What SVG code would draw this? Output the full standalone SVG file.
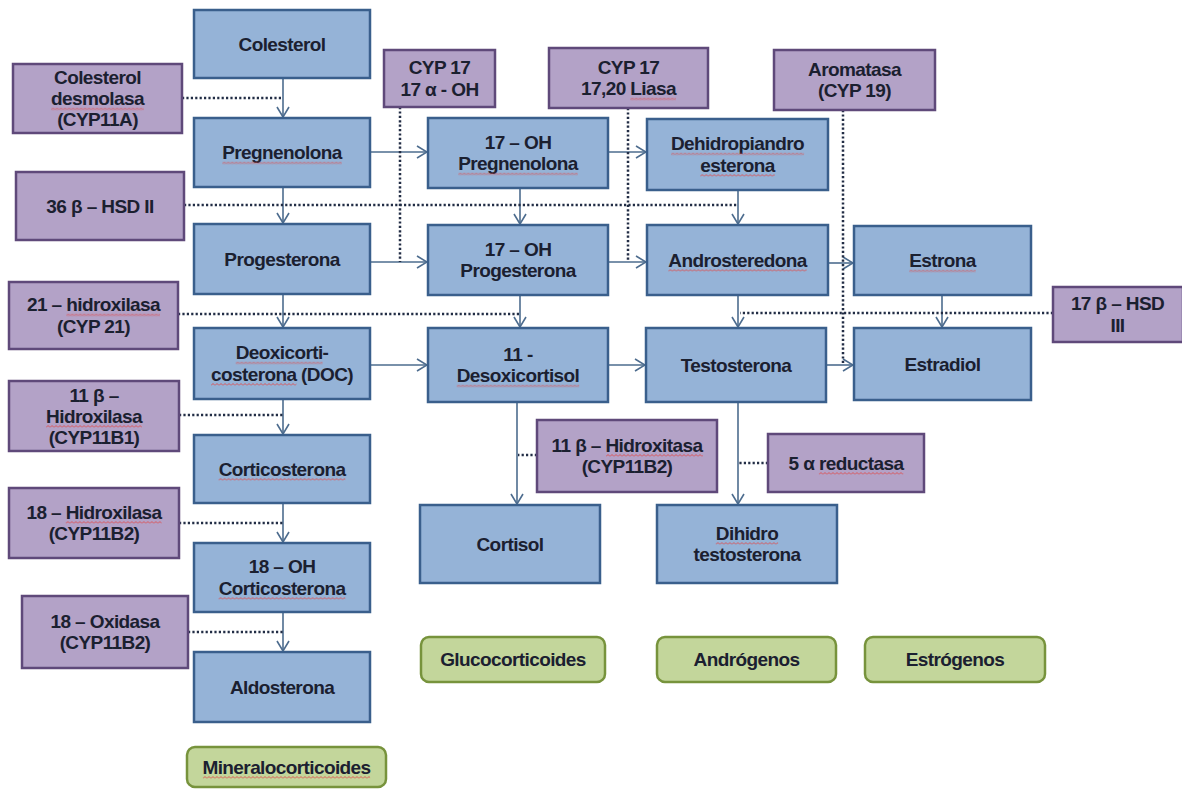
<svg xmlns="http://www.w3.org/2000/svg" width="1182" height="789" viewBox="0 0 1182 789">
<style>
.b{fill:#95b3d7;stroke:#3a5f8c;stroke-width:2.5}
.p{fill:#b3a2c7;stroke:#5f497a;stroke-width:2.5}
.g{fill:#c3d69b;stroke:#77933c;stroke-width:2.5}
.t{font-family:"Liberation Sans",Arial,sans-serif;font-weight:bold;font-size:19px;letter-spacing:-0.6px;fill:#1b2030;text-anchor:middle}
.s{stroke:#4d6c8e;stroke-width:1.6;fill:none;marker-end:url(#arr)}
.d{stroke:#222d45;stroke-width:2.5;stroke-dasharray:2.2 2.2;fill:none}
.q{fill:url(#sq)}
</style>
<defs>
<marker id="arr" viewBox="0 0 12 14" refX="11" refY="7" markerWidth="12" markerHeight="14" markerUnits="userSpaceOnUse" orient="auto">
<path d="M1,1 L11,7 L1,13" fill="none" stroke="#4d6c8e" stroke-width="1.6"/>
</marker>
<pattern id="sq" patternUnits="userSpaceOnUse" width="4" height="3">
<path d="M0,2.5 L2,0.5 L4,2.5" fill="none" stroke="#e04a4a" stroke-width="0.9"/>
</pattern>
</defs>
<rect x="0" y="0" width="1182" height="789" fill="#ffffff"/>

<g id="connectors">
<path class="s" d="M283,78 V117"/>
<path class="s" d="M283,187 V223"/>
<path class="s" d="M283,294 V327"/>
<path class="s" d="M283,399 V434"/>
<path class="s" d="M283,503 V542"/>
<path class="s" d="M283,612 V651"/>
<path class="s" d="M370,152 H427"/>
<path class="s" d="M370,262 H427"/>
<path class="s" d="M370,365 H427"/>
<path class="s" d="M520,188 V224"/>
<path class="s" d="M520,295 V327"/>
<path class="s" d="M608,152 H646"/>
<path class="s" d="M608,262 H646"/>
<path class="s" d="M608,365 H645"/>
<path class="s" d="M738,190 V224"/>
<path class="s" d="M738,295 V327"/>
<path class="s" d="M828,263 H853"/>
<path class="s" d="M826,365 H853"/>
<path class="s" d="M942,295 V327"/>
<path class="s" d="M517,402 V504"/>
<path class="s" d="M738,402 V504"/>
<path class="d" d="M182,98 H283"/>
<path class="d" d="M184,205 H738"/>
<path class="d" d="M400,107 V262"/>
<path class="d" d="M628,108 V262"/>
<path class="d" d="M843,110 V365"/>
<path class="d" d="M178,314 H519"/>
<path class="d" d="M1053,313 H740"/>
<path class="d" d="M179,415 H283"/>
<path class="d" d="M179,523 H283"/>
<path class="d" d="M188,632 H283"/>
<path class="d" d="M537,455 H518"/>
<path class="d" d="M768,463 H739"/>
</g>

<g id="colesterol"><rect class="b" x="194" y="10" width="176" height="68"/><text class="t" x="282" y="50.5">Colesterol</text></g>
<g id="colesterol-desmolasa"><rect class="p" x="13" y="64" width="169" height="69"/><text class="t" x="97.5" y="84">Colesterol</text><text class="t" x="97.5" y="105">desmolasa</text><text class="t" x="97.5" y="126">(CYP11A)</text><rect class="q" x="0" y="0" width="92.8" height="3" transform="translate(51.1,107.5)"/></g>
<g id="cyp17-oh"><rect class="p" x="384" y="50" width="111" height="57"/><text class="t" x="439.5" y="74">CYP 17</text><text class="t" x="439.5" y="95.5">17 α - OH</text></g>
<g id="cyp17-liasa"><rect class="p" x="549" y="48" width="159" height="60"/><text class="t" x="628.5" y="73.5">CYP 17</text><text class="t" x="628.5" y="95">17,20 Liasa</text><rect class="q" x="0" y="0" width="45.6" height="3" transform="translate(630.3,97.5)"/></g>
<g id="aromatasa"><rect class="p" x="774" y="50" width="161" height="60"/><text class="t" x="854.5" y="75.5">Aromatasa</text><text class="t" x="854.5" y="97">(CYP 19)</text></g>

<g id="pregnenolona"><rect class="b" x="194" y="118" width="176" height="69"/><text class="t" x="282" y="159">Pregnenolona</text><rect class="q" x="0" y="0" width="119.5" height="3" transform="translate(222.3,161.5)"/></g>
<g id="oh17-pregnenolona"><rect class="b" x="428" y="118" width="180" height="70"/><text class="t" x="518" y="148.5">17 – OH</text><text class="t" x="518" y="170">Pregnenolona</text><rect class="q" x="0" y="0" width="119.5" height="3" transform="translate(458.3,172.5)"/></g>
<g id="dehidropiandrosterona"><rect class="b" x="647" y="119" width="181" height="71"/><text class="t" x="737.5" y="150">Dehidropiandro</text><text class="t" x="737.5" y="171.5">esterona</text><rect class="q" x="0" y="0" width="133.1" height="3" transform="translate(671,152.5)"/><rect class="q" x="0" y="0" width="74.4" height="3" transform="translate(700.3,174)"/></g>
<g id="hsd36"><rect class="p" x="16" y="172" width="168" height="68"/><text class="t" x="100" y="212.5">36 β – HSD II</text></g>

<g id="progesterona"><rect class="b" x="194" y="224" width="176" height="70"/><text class="t" x="282" y="265.5">Progesterona</text></g>
<g id="oh17-progesterona"><rect class="b" x="428" y="225" width="180" height="70"/><text class="t" x="518" y="255.5">17 – OH</text><text class="t" x="518" y="277">Progesterona</text></g>
<g id="androsteredona"><rect class="b" x="647" y="225" width="181" height="70"/><text class="t" x="737.5" y="266.5">Androsteredona</text><rect class="q" x="0" y="0" width="138.2" height="3" transform="translate(668.4,269)"/></g>
<g id="estrona"><rect class="b" x="854" y="226" width="177" height="69"/><text class="t" x="942.5" y="267">Estrona</text><rect class="q" x="0" y="0" width="66.5" height="3" transform="translate(909.2,269.5)"/></g>
<g id="hidroxilasa21"><rect class="p" x="9" y="282" width="169" height="67"/><text class="t" x="93.5" y="311">21 – hidroxilasa</text><text class="t" x="93.5" y="332.5">(CYP 21)</text><rect class="q" x="0" y="0" width="93.7" height="3" transform="translate(66.3,313.5)"/></g>
<g id="hsd17"><rect class="p" x="1053" y="287" width="130" height="55"/><text class="t" x="1117.5" y="310">17 β – HSD</text><text class="t" x="1117.5" y="331.5">III</text></g>

<g id="deoxicorticosterona"><rect class="b" x="194" y="328" width="176" height="71"/><text class="t" x="282" y="359">Deoxicorti-</text><text class="t" x="282" y="380.5">costerona (DOC)</text><rect class="q" x="0" y="0" width="86.9" height="3" transform="translate(235.7,361.5)"/><rect class="q" x="0" y="0" width="85.4" height="3" transform="translate(211,383)"/></g>
<g id="desoxicortisol"><rect class="b" x="428" y="328" width="180" height="74"/><text class="t" x="518" y="360.5">11 -</text><text class="t" x="518" y="382">Desoxicortisol</text><rect class="q" x="0" y="0" width="122.5" height="3" transform="translate(456.7,384.5)"/></g>
<g id="testosterona"><rect class="b" x="646" y="328" width="180" height="74"/><text class="t" x="736" y="371.5">Testosterona</text></g>
<g id="estradiol"><rect class="b" x="854" y="328" width="177" height="72"/><text class="t" x="942.5" y="370.5">Estradiol</text></g>

<g id="hidroxilasa11"><rect class="p" x="9" y="381" width="170" height="70"/><text class="t" x="94" y="401.5">11 β –</text><text class="t" x="94" y="422.5">Hidroxilasa</text><text class="t" x="94" y="443.5">(CYP11B1)</text><rect class="q" x="0" y="0" width="95.8" height="3" transform="translate(46.1,425)"/></g>
<g id="hidroxitasa11"><rect class="p" x="537" y="420" width="180" height="72"/><text class="t" x="627" y="451.5">11 β – Hidroxitasa</text><text class="t" x="627" y="473">(CYP11B2)</text><rect class="q" x="0" y="0" width="96.9" height="3" transform="translate(606,454)"/></g>
<g id="reductasa5"><rect class="p" x="768" y="434" width="156" height="58"/><text class="t" x="846" y="469.5">5 α reductasa</text><rect class="q" x="0" y="0" width="84.4" height="3" transform="translate(818.9,472)"/></g>
<g id="corticosterona"><rect class="b" x="194" y="435" width="176" height="68"/><text class="t" x="282" y="475.5">Corticosterona</text><rect class="q" x="0" y="0" width="126.7" height="3" transform="translate(218.6,478)"/></g>
<g id="cortisol"><rect class="b" x="420" y="505" width="180" height="78"/><text class="t" x="510" y="550.5">Cortisol</text></g>
<g id="dihidrotestosterona"><rect class="b" x="657" y="505" width="180" height="78"/><text class="t" x="747" y="539.5">Dihidro</text><text class="t" x="747" y="561">testosterona</text><rect class="q" x="0" y="0" width="62.3" height="3" transform="translate(715.8,542)"/></g>

<g id="hidroxilasa18"><rect class="p" x="9" y="488" width="170" height="70"/><text class="t" x="94" y="518.5">18 – Hidroxilasa</text><text class="t" x="94" y="540">(CYP11B2)</text><rect class="q" x="0" y="0" width="95.8" height="3" transform="translate(65.8,521)"/></g>
<g id="oh18-corticosterona"><rect class="b" x="194" y="543" width="176" height="69"/><text class="t" x="282" y="573">18 – OH</text><text class="t" x="282" y="594.5">Corticosterona</text><rect class="q" x="0" y="0" width="126.7" height="3" transform="translate(218.6,597)"/></g>
<g id="oxidasa18"><rect class="p" x="22" y="596" width="166" height="72"/><text class="t" x="105" y="627.5">18 – Oxidasa</text><text class="t" x="105" y="649">(CYP11B2)</text></g>
<g id="aldosterona"><rect class="b" x="194" y="652" width="176" height="70"/><text class="t" x="282" y="693.5">Aldosterona</text></g>

<g id="glucocorticoides"><rect class="g" x="421" y="637" width="184" height="45" rx="8"/><text class="t" x="513" y="666">Glucocorticoides</text></g>
<g id="androgenos"><rect class="g" x="657" y="637" width="179" height="45" rx="8"/><text class="t" x="746.5" y="666">Andrógenos</text></g>
<g id="estrogenos"><rect class="g" x="865" y="637" width="180" height="45" rx="8"/><text class="t" x="955" y="666">Estrógenos</text></g>
<g id="mineralocorticoides"><rect class="g" x="187" y="747" width="199" height="40" rx="8"/><text class="t" x="286.5" y="773.5">Mineralocorticoides</text><rect class="q" x="0" y="0" width="167.2" height="3" transform="translate(202.9,776)"/></g>
</svg>
